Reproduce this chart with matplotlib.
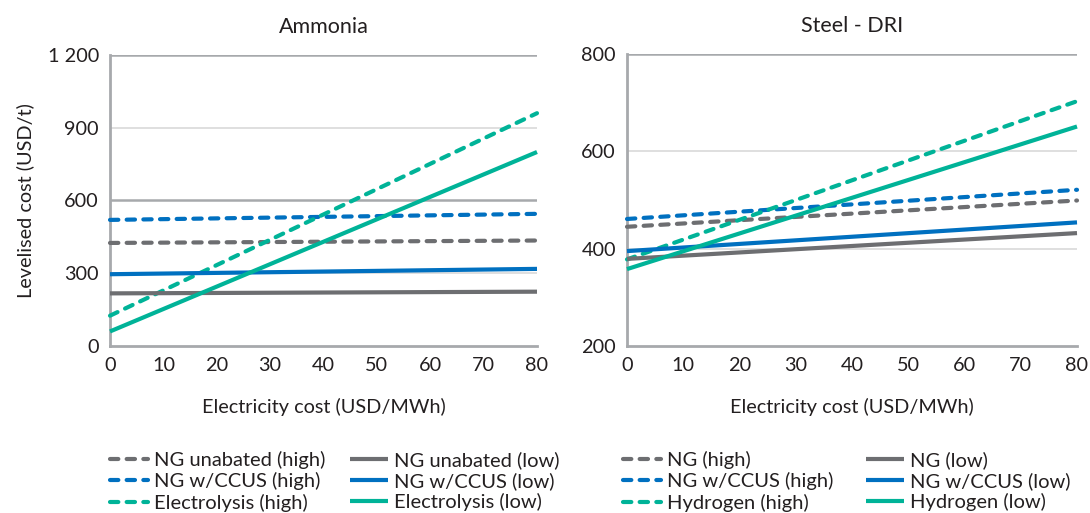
import matplotlib
matplotlib.use("Agg")
import matplotlib.pyplot as plt
from matplotlib.ticker import FuncFormatter

plt.rcParams['font.family'] = ['Lato', 'DejaVu Sans']

elec = [0, 80]

# Ammonia (USD/t)
amm_labels = ["NG unabated (high)", "NG w/CCUS (high)", "Electrolysis (high)",
              "NG unabated (low)", "NG w/CCUS (low)", "Electrolysis (low)"]
amm_ng_high = [425, 435]
amm_ccus_high = [520, 545]
amm_el_high = [125, 960]
amm_ng_low = [217, 224]
amm_ccus_low = [296, 318]
amm_el_low = [60, 800]

# Steel - DRI (USD/t)
steel_labels = ["NG (high)", "NG w/CCUS (high)", "Hydrogen (high)",
                "NG (low)", "NG w/CCUS (low)", "Hydrogen (low)"]
st_ng_high = [445, 499]
st_ccus_high = [461, 521]
st_h2_high = [378, 703]
st_ng_low = [379, 432]
st_ccus_low = [395, 454]
st_h2_low = [358, 651]

amm_yticks = [0, 300, 600, 900, 1200]
steel_yticks = [200, 400, 600, 800]
xticks = [0, 10, 20, 30, 40, 50, 60, 70, 80]

GRAY = "#6d6e71"
BLUE = "#0070c0"
TEAL = "#00b398"
SPINE = "#a7a9ac"
GRID_LIGHT = "#d9d9d9"
GRID_DARK = "#a7a9ac"
TXT = "#231f20"

fig = plt.figure(figsize=(10.9, 5.13), dpi=100)
ax1 = fig.add_axes([110/1090, 167/513, 427/1090, 291/513])
ax2 = fig.add_axes([627/1090, 167/513, 450/1090, 292/513])

LW = 3.0
def draw(ax, series):
    handles = []
    for y, color, dashed in series:
        if dashed:
            h, = ax.plot(elec, y, color=color, lw=LW, linestyle=(0, (2.0, 2.0)),
                         dash_capstyle='round', clip_on=False, zorder=3)
        else:
            h, = ax.plot(elec, y, color=color, lw=LW, solid_capstyle='butt',
                         clip_on=False, zorder=3)
        handles.append(h)
    return handles

h1 = draw(ax1, [(amm_ng_high, GRAY, True), (amm_ccus_high, BLUE, True), (amm_el_high, TEAL, True),
                (amm_ng_low, GRAY, False), (amm_ccus_low, BLUE, False), (amm_el_low, TEAL, False)])
h2 = draw(ax2, [(st_ng_high, GRAY, True), (st_ccus_high, BLUE, True), (st_h2_high, TEAL, True),
                (st_ng_low, GRAY, False), (st_ccus_low, BLUE, False), (st_h2_low, TEAL, False)])

FS = 14.3
def style(ax, yticks, dark, title):
    ax.set_xlim(0, 80)
    ax.set_ylim(yticks[0], yticks[-1])
    ax.set_xticks(xticks)
    ax.set_yticks(yticks)
    ax.yaxis.set_major_formatter(FuncFormatter(lambda v, p: f"{int(v):,}".replace(",", " ")))
    for s in ["top", "right"]:
        ax.spines[s].set_visible(False)
    for s in ["left", "bottom"]:
        ax.spines[s].set_color(SPINE)
        ax.spines[s].set_linewidth(2.0)
    ax.tick_params(length=0, labelsize=FS, colors=TXT, pad=8)
    for yv in yticks[1:]:
        if yv in dark:
            ax.axhline(yv, color=GRID_DARK, lw=1.8, zorder=1)
        else:
            ax.axhline(yv, color=GRID_LIGHT, lw=1.2, zorder=1)
    ax.set_title(title, fontsize=15.5, color=TXT, pad=16)
    ax.set_xlabel("Electricity cost (USD/MWh)", fontsize=FS, color=TXT, labelpad=17)

style(ax1, amm_yticks, [600, 1200], "Ammonia")
style(ax2, steel_yticks, [800], "Steel - DRI")
ax1.set_ylabel("Levelised cost (USD/t)", fontsize=FS, color=TXT, labelpad=10)

def leg(handles, labels, x, y):
    lg = fig.legend(handles, labels, loc='upper left', bbox_to_anchor=(x/1090, 1 - y/513),
                    frameon=False, fontsize=14.5, borderpad=0, borderaxespad=0,
                    handlelength=1.9, handletextpad=0.3, labelspacing=0.16)
    for t in lg.get_texts():
        t.set_color(TXT)
    return lg

leg(h1[:3], amm_labels[:3], 110, 451)
leg(h1[3:], amm_labels[3:], 350, 451)
leg(h2[:3], steel_labels[:3], 623, 451)
leg(h2[3:], steel_labels[3:], 866, 451)

fig.savefig("out.png", dpi=100)
